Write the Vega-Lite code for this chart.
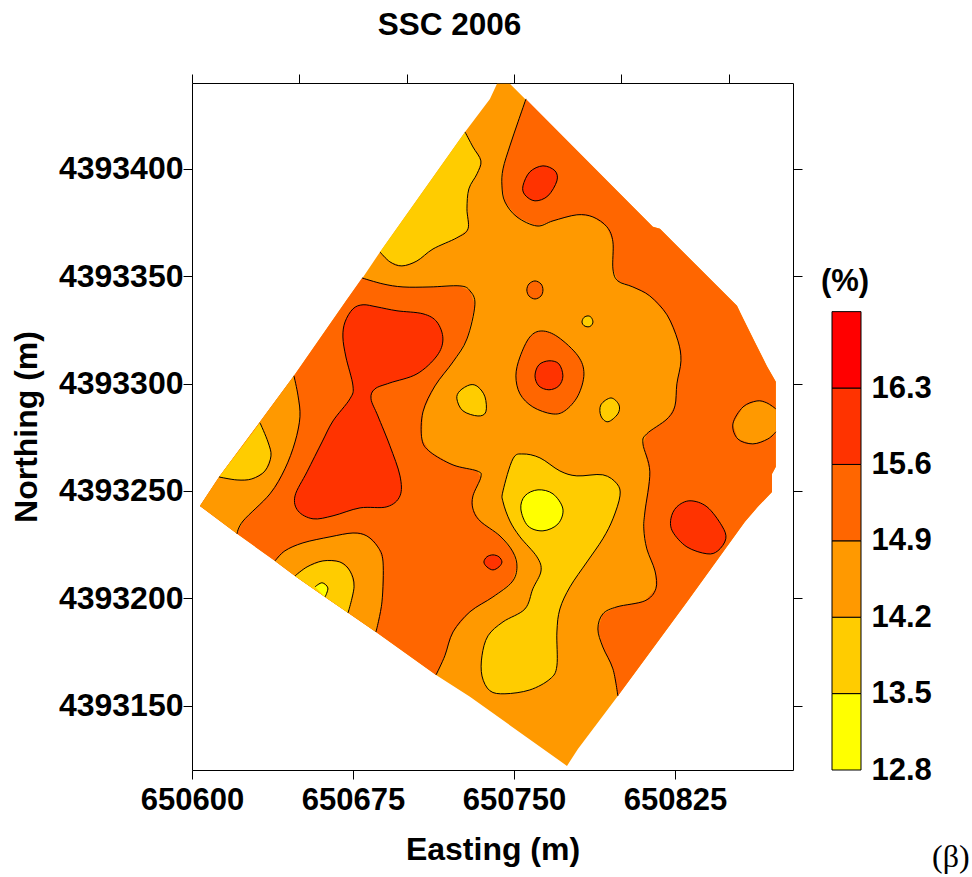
{"$schema":"https://vega.github.io/schema/vega-lite/v6.json","background":"white","padding":{"left":10,"top":10,"right":0,"bottom":0},"bounds":"flush","spacing":39,"config":{"view":{"stroke":null},"font":"Liberation Sans","axis":{"grid":false,"domainColor":"#000","tickColor":"#000","labelColor":"#000","titleColor":"#000","labelFont":"Liberation Sans","titleFont":"Liberation Sans","labelFontWeight":"bold","titleFontWeight":"bold","labelFontSize":31,"titleFontSize":32,"tickSize":9,"labelFlush":false}},"datasets":{"regions":[
{"p":"base","v":14.2,"x":650742.1,"y":4393439.6,"edge":true},{"p":"base","v":14.2,"x":650748.1,"y":4393439.6,"edge":true},{"p":"base","v":14.2,"x":650814.7,"y":4393373.0,"edge":true},{"p":"base","v":14.2,"x":650818.0,"y":4393372.1,"edge":true},{"p":"base","v":14.2,"x":650853.9,"y":4393336.2,"edge":true},{"p":"base","v":14.2,"x":650856.2,"y":4393331.5,"edge":true},{"p":"base","v":14.2,"x":650862.2,"y":4393319.4,"edge":true},{"p":"base","v":14.2,"x":650867.8,"y":4393308.2,"edge":true},{"p":"base","v":14.2,"x":650872.0,"y":4393300.8,"edge":true},{"p":"base","v":14.2,"x":650872.0,"y":4393261.2,"edge":true},{"p":"base","v":14.2,"x":650870.2,"y":4393257.9,"edge":true},{"p":"base","v":14.2,"x":650870.2,"y":4393249.5,"edge":true},{"p":"base","v":14.2,"x":650863.6,"y":4393242.6,"edge":true},{"p":"base","v":14.2,"x":650857.6,"y":4393235.6,"edge":true},{"p":"base","v":14.2,"x":650830.6,"y":4393198.3,"edge":true},{"p":"base","v":14.2,"x":650798.4,"y":4393154.5,"edge":true},{"p":"base","v":14.2,"x":650779.8,"y":4393129.8,"edge":true},{"p":"base","v":14.2,"x":650774.7,"y":4393121.9,"edge":true},{"p":"base","v":14.2,"x":650729.5,"y":4393154.1,"edge":true},{"p":"base","v":14.2,"x":650713.7,"y":4393164.3,"edge":true},{"p":"base","v":14.2,"x":650685.7,"y":4393184.3,"edge":true},{"p":"base","v":14.2,"x":650672.7,"y":4393193.2,"edge":true},{"p":"base","v":14.2,"x":650662.0,"y":4393200.6,"edge":true},{"p":"base","v":14.2,"x":650648.0,"y":4393210.4,"edge":true},{"p":"base","v":14.2,"x":650638.7,"y":4393217.4,"edge":true},{"p":"base","v":14.2,"x":650621.0,"y":4393230.0,"edge":true},{"p":"base","v":14.2,"x":650603.7,"y":4393243.0,"edge":true},{"p":"base","v":14.2,"x":650612.6,"y":4393256.5,"edge":true},{"p":"base","v":14.2,"x":650631.7,"y":4393282.2,"edge":true},{"p":"base","v":14.2,"x":650647.5,"y":4393303.6,"edge":true},{"p":"base","v":14.2,"x":650671.7,"y":4393338.5,"edge":true},{"p":"base","v":14.2,"x":650679.2,"y":4393348.8,"edge":true},{"p":"base","v":14.2,"x":650687.6,"y":4393361.3,"edge":true},{"p":"base","v":14.2,"x":650727.2,"y":4393417.2,"edge":true},{"p":"base","v":14.2,"x":650738.8,"y":4393432.6,"edge":true},
{"p":"r1","v":14.9,"x":650755.6,"y":4393432.6},{"p":"r1","v":14.9,"x":650751.9,"y":4393421.9},{"p":"r1","v":14.9,"x":650748.1,"y":4393410.7},{"p":"r1","v":14.9,"x":650744.9,"y":4393400.0},{"p":"r1","v":14.9,"x":650744.4,"y":4393392.1},{"p":"r1","v":14.9,"x":650745.8,"y":4393384.6},{"p":"r1","v":14.9,"x":650751.4,"y":4393377.6},{"p":"r1","v":14.9,"x":650760.7,"y":4393373.4},{"p":"r1","v":14.9,"x":650768.2,"y":4393375.8},{"p":"r1","v":14.9,"x":650779.3,"y":4393378.6},{"p":"r1","v":14.9,"x":650786.8,"y":4393377.6},{"p":"r1","v":14.9,"x":650793.3,"y":4393373.0},{"p":"r1","v":14.9,"x":650796.1,"y":4393366.0},{"p":"r1","v":14.9,"x":650796.1,"y":4393353.4},{"p":"r1","v":14.9,"x":650798.4,"y":4393347.8},{"p":"r1","v":14.9,"x":650805.4,"y":4393345.0},{"p":"r1","v":14.9,"x":650813.3,"y":4393340.8},{"p":"r1","v":14.9,"x":650821.3,"y":4393332.0},{"p":"r1","v":14.9,"x":650826.4,"y":4393319.9},{"p":"r1","v":14.9,"x":650827.8,"y":4393310.6},{"p":"r1","v":14.9,"x":650825.9,"y":4393299.9},{"p":"r1","v":14.9,"x":650825.0,"y":4393289.6},{"p":"r1","v":14.9,"x":650821.3,"y":4393283.5},{"p":"r1","v":14.9,"x":650811.9,"y":4393276.6},{"p":"r1","v":14.9,"x":650810.1,"y":4393271.9},{"p":"r1","v":14.9,"x":650813.3,"y":4393258.9},{"p":"r1","v":14.9,"x":650811.0,"y":4393240.2},{"p":"r1","v":14.9,"x":650810.5,"y":4393232.3},{"p":"r1","v":14.9,"x":650811.9,"y":4393223.0},{"p":"r1","v":14.9,"x":650815.7,"y":4393212.7},{"p":"r1","v":14.9,"x":650816.1,"y":4393204.4},{"p":"r1","v":14.9,"x":650811.0,"y":4393198.8},{"p":"r1","v":14.9,"x":650798.0,"y":4393196.0},{"p":"r1","v":14.9,"x":650791.4,"y":4393192.7},{"p":"r1","v":14.9,"x":650789.1,"y":4393185.7},{"p":"r1","v":14.9,"x":650791.4,"y":4393177.3},{"p":"r1","v":14.9,"x":650796.1,"y":4393167.1},{"p":"r1","v":14.9,"x":650798.4,"y":4393154.5},
{"p":"r1","v":14.9,"x":650830.6,"y":4393198.3,"edge":true},{"p":"r1","v":14.9,"x":650857.6,"y":4393235.6,"edge":true},{"p":"r1","v":14.9,"x":650863.6,"y":4393242.6,"edge":true},{"p":"r1","v":14.9,"x":650870.2,"y":4393249.5,"edge":true},{"p":"r1","v":14.9,"x":650870.2,"y":4393257.9,"edge":true},{"p":"r1","v":14.9,"x":650872.0,"y":4393261.2,"edge":true},{"p":"r1","v":14.9,"x":650872.0,"y":4393300.8,"edge":true},{"p":"r1","v":14.9,"x":650867.8,"y":4393308.2,"edge":true},{"p":"r1","v":14.9,"x":650862.2,"y":4393319.4,"edge":true},{"p":"r1","v":14.9,"x":650856.2,"y":4393331.5,"edge":true},{"p":"r1","v":14.9,"x":650853.9,"y":4393336.2,"edge":true},{"p":"r1","v":14.9,"x":650818.0,"y":4393372.1,"edge":true},{"p":"r1","v":14.9,"x":650814.7,"y":4393373.0,"edge":true},
{"p":"r2","v":14.9,"x":650679.2,"y":4393349.2},{"p":"r2","v":14.9,"x":650689.0,"y":4393346.4},{"p":"r2","v":14.9,"x":650698.3,"y":4393345.0},{"p":"r2","v":14.9,"x":650710.9,"y":4393345.0},{"p":"r2","v":14.9,"x":650724.8,"y":4393345.5},{"p":"r2","v":14.9,"x":650729.5,"y":4393343.2},{"p":"r2","v":14.9,"x":650731.8,"y":4393336.7},{"p":"r2","v":14.9,"x":650728.1,"y":4393320.8},{"p":"r2","v":14.9,"x":650721.6,"y":4393310.1},{"p":"r2","v":14.9,"x":650713.2,"y":4393298.9},{"p":"r2","v":14.9,"x":650707.6,"y":4393286.8},{"p":"r2","v":14.9,"x":650707.1,"y":4393274.2},{"p":"r2","v":14.9,"x":650710.9,"y":4393268.2},{"p":"r2","v":14.9,"x":650721.6,"y":4393262.1},{"p":"r2","v":14.9,"x":650732.8,"y":4393259.3},{"p":"r2","v":14.9,"x":650734.6,"y":4393256.5},{"p":"r2","v":14.9,"x":650730.9,"y":4393247.7},{"p":"r2","v":14.9,"x":650730.9,"y":4393241.6},{"p":"r2","v":14.9,"x":650734.2,"y":4393236.0},{"p":"r2","v":14.9,"x":650743.5,"y":4393229.0},{"p":"r2","v":14.9,"x":650749.5,"y":4393221.6},{"p":"r2","v":14.9,"x":650751.4,"y":4393214.6},{"p":"r2","v":14.9,"x":650749.1,"y":4393207.6},{"p":"r2","v":14.9,"x":650740.2,"y":4393200.6},{"p":"r2","v":14.9,"x":650729.5,"y":4393193.7},{"p":"r2","v":14.9,"x":650721.6,"y":4393184.3},{"p":"r2","v":14.9,"x":650717.8,"y":4393173.2},{"p":"r2","v":14.9,"x":650713.7,"y":4393164.3},
{"p":"r2","v":14.9,"x":650685.7,"y":4393184.3,"edge":true},{"p":"r2","v":14.9,"x":650672.7,"y":4393193.2,"edge":true},{"p":"r2","v":14.9,"x":650662.0,"y":4393200.6,"edge":true},{"p":"r2","v":14.9,"x":650648.0,"y":4393210.4,"edge":true},{"p":"r2","v":14.9,"x":650638.7,"y":4393217.4,"edge":true},{"p":"r2","v":14.9,"x":650621.0,"y":4393230.0,"edge":true},{"p":"r2","v":14.9,"x":650603.7,"y":4393243.0,"edge":true},{"p":"r2","v":14.9,"x":650612.6,"y":4393256.5,"edge":true},{"p":"r2","v":14.9,"x":650631.7,"y":4393282.2,"edge":true},{"p":"r2","v":14.9,"x":650647.5,"y":4393303.6,"edge":true},{"p":"r2","v":14.9,"x":650671.7,"y":4393338.5,"edge":true},
{"p":"w","v":14.2,"x":650647.5,"y":4393303.6},{"p":"w","v":14.2,"x":650649.4,"y":4393294.3},{"p":"w","v":14.2,"x":650650.3,"y":4393284.5},{"p":"w","v":14.2,"x":650648.0,"y":4393272.8},{"p":"w","v":14.2,"x":650643.3,"y":4393260.3},{"p":"w","v":14.2,"x":650636.3,"y":4393248.6},{"p":"w","v":14.2,"x":650623.8,"y":4393236.0},{"p":"w","v":14.2,"x":650621.0,"y":4393230.0},{"p":"w","v":14.2,"x":650603.7,"y":4393243.0,"edge":true},{"p":"w","v":14.2,"x":650612.6,"y":4393256.5,"edge":true},{"p":"w","v":14.2,"x":650631.7,"y":4393282.2,"edge":true},
{"p":"wy","v":13.5,"x":650631.7,"y":4393281.7},{"p":"wy","v":13.5,"x":650635.4,"y":4393272.8},{"p":"wy","v":13.5,"x":650636.8,"y":4393266.3},{"p":"wy","v":13.5,"x":650634.0,"y":4393259.3},{"p":"wy","v":13.5,"x":650627.9,"y":4393255.6},{"p":"wy","v":13.5,"x":650621.0,"y":4393255.1},{"p":"wy","v":13.5,"x":650612.6,"y":4393256.5},
{"p":"so","v":14.2,"x":650638.7,"y":4393217.4},{"p":"so","v":14.2,"x":650643.3,"y":4393222.1},{"p":"so","v":14.2,"x":650651.7,"y":4393225.8},{"p":"so","v":14.2,"x":650664.3,"y":4393228.6},{"p":"so","v":14.2,"x":650675.0,"y":4393230.4},{"p":"so","v":14.2,"x":650681.5,"y":4393229.0},{"p":"so","v":14.2,"x":650686.6,"y":4393223.9},{"p":"so","v":14.2,"x":650689.0,"y":4393216.9},{"p":"so","v":14.2,"x":650688.5,"y":4393198.3},{"p":"so","v":14.2,"x":650685.7,"y":4393184.3},{"p":"so","v":14.2,"x":650672.7,"y":4393193.2,"edge":true},{"p":"so","v":14.2,"x":650662.0,"y":4393200.6,"edge":true},{"p":"so","v":14.2,"x":650648.0,"y":4393210.4,"edge":true},
{"p":"sy","v":13.5,"x":650648.0,"y":4393210.4},{"p":"sy","v":13.5,"x":650653.6,"y":4393214.6},{"p":"sy","v":13.5,"x":650661.0,"y":4393217.4},{"p":"sy","v":13.5,"x":650668.9,"y":4393216.9},{"p":"sy","v":13.5,"x":650673.6,"y":4393212.7},{"p":"sy","v":13.5,"x":650675.5,"y":4393205.3},{"p":"sy","v":13.5,"x":650672.7,"y":4393193.2},{"p":"sy","v":13.5,"x":650662.0,"y":4393200.6,"edge":true},
{"p":"sb","v":12.8,"x":650657.3,"y":4393205.3},{"p":"sb","v":12.8,"x":650660.6,"y":4393207.2},{"p":"sb","v":12.8,"x":650663.3,"y":4393204.8},{"p":"sb","v":12.8,"x":650662.0,"y":4393200.6},
{"p":"ny","v":13.5,"x":650727.2,"y":4393417.2},{"p":"ny","v":13.5,"x":650730.9,"y":4393410.2},{"p":"ny","v":13.5,"x":650734.6,"y":4393403.7},{"p":"ny","v":13.5,"x":650732.8,"y":4393397.7},{"p":"ny","v":13.5,"x":650729.0,"y":4393390.7},{"p":"ny","v":13.5,"x":650728.1,"y":4393381.4},{"p":"ny","v":13.5,"x":650728.6,"y":4393372.1},{"p":"ny","v":13.5,"x":650723.4,"y":4393367.9},{"p":"ny","v":13.5,"x":650712.3,"y":4393362.7},{"p":"ny","v":13.5,"x":650704.8,"y":4393357.1},{"p":"ny","v":13.5,"x":650697.8,"y":4393354.8},{"p":"ny","v":13.5,"x":650692.2,"y":4393356.7},{"p":"ny","v":13.5,"x":650687.6,"y":4393361.3},
{"p":"eo","v":14.2,"x":650872.0,"y":4393288.2},{"p":"eo","v":14.2,"x":650867.8,"y":4393291.0},{"p":"eo","v":14.2,"x":650863.2,"y":4393291.9},{"p":"eo","v":14.2,"x":650856.7,"y":4393289.1},{"p":"eo","v":14.2,"x":650852.0,"y":4393281.2},{"p":"eo","v":14.2,"x":650854.3,"y":4393274.2},{"p":"eo","v":14.2,"x":650861.3,"y":4393271.9},{"p":"eo","v":14.2,"x":650868.3,"y":4393274.2},{"p":"eo","v":14.2,"x":650872.0,"y":4393277.5}
],"blobs":[
{"p":"hg","v":15.6,"x":650679.7,"y":4393336.7},{"p":"hg","v":15.6,"x":650675.0,"y":4393334.8},{"p":"hg","v":15.6,"x":650671.3,"y":4393328.7},{"p":"hg","v":15.6,"x":650670.3,"y":4393321.7},{"p":"hg","v":15.6,"x":650671.7,"y":4393312.4},{"p":"hg","v":15.6,"x":650675.0,"y":4393298.9},{"p":"hg","v":15.6,"x":650673.6,"y":4393292.9},{"p":"hg","v":15.6,"x":650665.7,"y":4393282.6},{"p":"hg","v":15.6,"x":650660.6,"y":4393272.8},{"p":"hg","v":15.6,"x":650653.6,"y":4393258.9},{"p":"hg","v":15.6,"x":650648.0,"y":4393247.7},{"p":"hg","v":15.6,"x":650649.4,"y":4393240.7},{"p":"hg","v":15.6,"x":650656.4,"y":4393237.0},{"p":"hg","v":15.6,"x":650665.7,"y":4393238.4},{"p":"hg","v":15.6,"x":650678.3,"y":4393242.1},{"p":"hg","v":15.6,"x":650690.8,"y":4393242.6},{"p":"hg","v":15.6,"x":650696.9,"y":4393247.7},{"p":"hg","v":15.6,"x":650696.9,"y":4393257.0},{"p":"hg","v":15.6,"x":650692.2,"y":4393271.0},{"p":"hg","v":15.6,"x":650686.6,"y":4393284.9},{"p":"hg","v":15.6,"x":650683.4,"y":4393292.9},{"p":"hg","v":15.6,"x":650685.2,"y":4393297.5},{"p":"hg","v":15.6,"x":650692.2,"y":4393300.3},{"p":"hg","v":15.6,"x":650704.8,"y":4393304.5},{"p":"hg","v":15.6,"x":650714.1,"y":4393312.9},{"p":"hg","v":15.6,"x":650716.9,"y":4393320.8},{"p":"hg","v":15.6,"x":650714.1,"y":4393328.7},{"p":"hg","v":15.6,"x":650707.6,"y":4393332.5},{"p":"hg","v":15.6,"x":650695.5,"y":4393333.9},{"p":"hg","v":15.6,"x":650686.2,"y":4393335.7},
{"p":"nd","v":15.6,"x":650763.5,"y":4393401.4},{"p":"nd","v":15.6,"x":650769.1,"y":4393399.1},{"p":"nd","v":15.6,"x":650770.0,"y":4393394.4},{"p":"nd","v":15.6,"x":650765.8,"y":4393387.4},{"p":"nd","v":15.6,"x":650759.8,"y":4393385.1},{"p":"nd","v":15.6,"x":650755.1,"y":4393387.9},{"p":"nd","v":15.6,"x":650754.2,"y":4393392.1},{"p":"nd","v":15.6,"x":650757.4,"y":4393398.6},
{"p":"cb","v":14.9,"x":650763.0,"y":4393324.5},{"p":"cb","v":14.9,"x":650770.5,"y":4393321.7},{"p":"cb","v":14.9,"x":650779.8,"y":4393312.9},{"p":"cb","v":14.9,"x":650782.6,"y":4393304.5},{"p":"cb","v":14.9,"x":650779.8,"y":4393294.3},{"p":"cb","v":14.9,"x":650773.7,"y":4393287.3},{"p":"cb","v":14.9,"x":650767.7,"y":4393285.9},{"p":"cb","v":14.9,"x":650758.8,"y":4393289.1},{"p":"cb","v":14.9,"x":650752.8,"y":4393295.2},{"p":"cb","v":14.9,"x":650750.9,"y":4393303.6},{"p":"cb","v":14.9,"x":650752.8,"y":4393312.4},{"p":"cb","v":14.9,"x":650757.4,"y":4393321.7},
{"p":"ci","v":15.6,"x":650766.3,"y":4393310.6},{"p":"ci","v":15.6,"x":650770.9,"y":4393309.2},{"p":"ci","v":15.6,"x":650772.8,"y":4393303.6},{"p":"ci","v":15.6,"x":650770.9,"y":4393298.9},{"p":"ci","v":15.6,"x":650766.3,"y":4393297.1},{"p":"ci","v":15.6,"x":650761.6,"y":4393298.9},{"p":"ci","v":15.6,"x":650759.8,"y":4393303.6},{"p":"ci","v":15.6,"x":650761.6,"y":4393308.7},
{"p":"sm","v":14.9,"x":650759.8,"y":4393347.8},{"p":"sm","v":14.9,"x":650762.6,"y":4393346.4},{"p":"sm","v":14.9,"x":650763.5,"y":4393343.6},{"p":"sm","v":14.9,"x":650762.6,"y":4393340.8},{"p":"sm","v":14.9,"x":650759.8,"y":4393339.4},{"p":"sm","v":14.9,"x":650757.0,"y":4393340.8},{"p":"sm","v":14.9,"x":650756.0,"y":4393343.6},{"p":"sm","v":14.9,"x":650757.0,"y":4393346.4},
{"p":"ty","v":13.5,"x":650784.5,"y":4393331.5},{"p":"ty","v":13.5,"x":650786.0,"y":4393330.8},{"p":"ty","v":13.5,"x":650786.8,"y":4393328.7},{"p":"ty","v":13.5,"x":650786.0,"y":4393327.0},{"p":"ty","v":13.5,"x":650784.5,"y":4393326.4},{"p":"ty","v":13.5,"x":650782.6,"y":4393327.0},{"p":"ty","v":13.5,"x":650781.7,"y":4393328.7},{"p":"ty","v":13.5,"x":650782.6,"y":4393330.8},
{"p":"ly","v":13.5,"x":650729.5,"y":4393299.4},{"p":"ly","v":13.5,"x":650724.8,"y":4393296.6},{"p":"ly","v":13.5,"x":650723.4,"y":4393292.9},{"p":"ly","v":13.5,"x":650726.2,"y":4393287.3},{"p":"ly","v":13.5,"x":650733.2,"y":4393284.9},{"p":"ly","v":13.5,"x":650736.9,"y":4393286.8},{"p":"ly","v":13.5,"x":650736.5,"y":4393293.8},{"p":"ly","v":13.5,"x":650733.2,"y":4393298.5},
{"p":"ry","v":13.5,"x":650795.2,"y":4393293.3},{"p":"ry","v":13.5,"x":650798.9,"y":4393290.1},{"p":"ry","v":13.5,"x":650798.4,"y":4393285.9},{"p":"ry","v":13.5,"x":650793.8,"y":4393282.2},{"p":"ry","v":13.5,"x":650790.5,"y":4393284.9},{"p":"ry","v":13.5,"x":650790.5,"y":4393290.1},
{"p":"cy","v":13.5,"x":650754.2,"y":4393267.2},{"p":"cy","v":13.5,"x":650749.5,"y":4393264.9},{"p":"cy","v":13.5,"x":650744.9,"y":4393250.0},{"p":"cy","v":13.5,"x":650744.9,"y":4393244.9},{"p":"cy","v":13.5,"x":650748.1,"y":4393236.0},{"p":"cy","v":13.5,"x":650752.8,"y":4393228.6},{"p":"cy","v":13.5,"x":650760.7,"y":4393219.3},{"p":"cy","v":13.5,"x":650762.6,"y":4393212.7},{"p":"cy","v":13.5,"x":650758.8,"y":4393204.4},{"p":"cy","v":13.5,"x":650755.1,"y":4393195.0},{"p":"cy","v":13.5,"x":650744.9,"y":4393189.0},{"p":"cy","v":13.5,"x":650737.9,"y":4393182.5},{"p":"cy","v":13.5,"x":650735.1,"y":4393173.2},{"p":"cy","v":13.5,"x":650735.1,"y":4393163.8},{"p":"cy","v":13.5,"x":650738.8,"y":4393156.9},{"p":"cy","v":13.5,"x":650745.8,"y":4393155.5},{"p":"cy","v":13.5,"x":650757.4,"y":4393157.3},{"p":"cy","v":13.5,"x":650766.8,"y":4393162.4},{"p":"cy","v":13.5,"x":650770.0,"y":4393168.5},{"p":"cy","v":13.5,"x":650770.0,"y":4393184.3},{"p":"cy","v":13.5,"x":650771.4,"y":4393195.0},{"p":"cy","v":13.5,"x":650776.1,"y":4393205.3},{"p":"cy","v":13.5,"x":650784.0,"y":4393216.9},{"p":"cy","v":13.5,"x":650791.4,"y":4393227.7},{"p":"cy","v":13.5,"x":650796.1,"y":4393237.0},{"p":"cy","v":13.5,"x":650799.4,"y":4393247.7},{"p":"cy","v":13.5,"x":650798.0,"y":4393253.3},{"p":"cy","v":13.5,"x":650791.4,"y":4393257.5},{"p":"cy","v":13.5,"x":650779.3,"y":4393257.0},{"p":"cy","v":13.5,"x":650771.4,"y":4393259.3},{"p":"cy","v":13.5,"x":650762.1,"y":4393265.4},
{"p":"by","v":12.8,"x":650761.2,"y":4393250.5},{"p":"by","v":12.8,"x":650768.2,"y":4393248.6},{"p":"by","v":12.8,"x":650772.8,"y":4393241.6},{"p":"by","v":12.8,"x":650770.5,"y":4393234.6},{"p":"by","v":12.8,"x":650763.5,"y":4393231.4},{"p":"by","v":12.8,"x":650756.5,"y":4393233.7},{"p":"by","v":12.8,"x":650753.2,"y":4393241.6},{"p":"by","v":12.8,"x":650755.1,"y":4393247.7},
{"p":"sd","v":15.6,"x":650832.0,"y":4393245.4},{"p":"sd","v":15.6,"x":650839.9,"y":4393242.6},{"p":"sd","v":15.6,"x":650846.9,"y":4393233.7},{"p":"sd","v":15.6,"x":650848.7,"y":4393227.7},{"p":"sd","v":15.6,"x":650845.0,"y":4393222.1},{"p":"sd","v":15.6,"x":650839.9,"y":4393220.7},{"p":"sd","v":15.6,"x":650830.6,"y":4393223.9},{"p":"sd","v":15.6,"x":650824.0,"y":4393230.9},{"p":"sd","v":15.6,"x":650823.1,"y":4393237.0},{"p":"sd","v":15.6,"x":650825.9,"y":4393242.6},
{"p":"sr","v":15.6,"x":650740.2,"y":4393220.2},{"p":"sr","v":15.6,"x":650743.0,"y":4393219.3},{"p":"sr","v":15.6,"x":650744.4,"y":4393216.9},{"p":"sr","v":15.6,"x":650743.0,"y":4393214.6},{"p":"sr","v":15.6,"x":650740.2,"y":4393213.2},{"p":"sr","v":15.6,"x":650737.4,"y":4393214.6},{"p":"sr","v":15.6,"x":650736.0,"y":4393216.9},{"p":"sr","v":15.6,"x":650737.4,"y":4393219.3}
]},"hconcat":[{"width":601,"height":687,"title":{"text":"SSC 2006","fontSize":31.5,"fontWeight":"bold","font":"Liberation Sans","color":"#000","offset":32,"dx":-43},"resolve":{"axis":{"x":"independent","y":"independent"}},"layer":[
{"data":{"name":"regions"},"mark":{"type":"line","interpolate":"linear","strokeOpacity":0},"encoding":{"x":{"field":"x","type":"quantitative","scale":{"domain":[650600,650880],"nice":false,"zero":false},"axis":{"orient":"bottom","values":[650600,650675,650750,650825],"format":"d","title":"Easting (m)","labelPadding":6,"titlePadding":19}},"y":{"field":"y","type":"quantitative","scale":{"domain":[4393120,4393440],"nice":false,"zero":false},"axis":{"orient":"left","values":[4393150,4393200,4393250,4393300,4393350,4393400],"format":"d","title":"Northing (m)","labelFontSize":32,"labelPadding":0,"titlePadding":15}},"detail":{"field":"p"},"order":{"value":null},"fill":{"field":"v","type":"ordinal","scale":{"domain":[12.8,13.5,14.2,14.9,15.6,16.3],"range":["#FFFF00","#FFCC00","#FF9900","#FF6600","#FF3300","#FF0000"]},"legend":null}}},
{"data":{"name":"regions"},"transform":[{"filter":"!datum.edge"}],"mark":{"type":"line","interpolate":"cardinal","stroke":"#000","strokeWidth":1},"encoding":{"x":{"field":"x","type":"quantitative","axis":{"orient":"top","values":[650600,650650,650700,650750,650800,650850],"labels":false,"title":null}},"y":{"field":"y","type":"quantitative","axis":{"orient":"right","values":[4393150,4393200,4393250,4393300,4393350,4393400],"labels":false,"title":null}},"detail":{"field":"p"},"order":{"value":null}}},
{"data":{"name":"blobs"},"mark":{"type":"line","interpolate":"cardinal-closed","stroke":"#000","strokeWidth":1},"encoding":{"x":{"field":"x","type":"quantitative","axis":null},"y":{"field":"y","type":"quantitative","axis":null},"detail":{"field":"p"},"order":{"value":null},"fill":{"field":"v","type":"ordinal","legend":null}}}
]},
{"width":29,"height":687,"layer":[
{"data":{"values":[{"lo":12.8,"hi":13.5},{"lo":13.5,"hi":14.2},{"lo":14.2,"hi":14.9},{"lo":14.9,"hi":15.6},{"lo":15.6,"hi":16.3},{"lo":16.3,"hi":17.0}]},"mark":{"type":"rect","stroke":"#000","strokeWidth":1},"encoding":{"x":{"datum":0,"type":"quantitative","scale":{"domain":[0,1],"nice":false,"zero":false},"axis":null},"x2":{"datum":1},"y":{"field":"lo","type":"quantitative","scale":{"domain":[12.8,19.095],"nice":false,"zero":false},"axis":{"orient":"right","values":[12.8,13.5,14.2,14.9,15.6,16.3],"format":".1f","title":null,"domain":false,"ticks":false,"labelPadding":10}},"y2":{"field":"hi"},"fill":{"field":"lo","type":"ordinal","scale":{"domain":[12.8,13.5,14.2,14.9,15.6,16.3],"range":["#FFFF00","#FFCC00","#FF9900","#FF6600","#FF3300","#FF0000"]},"legend":null}}},
{"data":{"values":[{"t":"(%)","xp":0.45,"yp":17.27}]},"mark":{"type":"text","font":"Liberation Sans","fontWeight":"bold","fontSize":31,"color":"#000","baseline":"middle"},"encoding":{"x":{"field":"xp","type":"quantitative"},"y":{"field":"yp","type":"quantitative"},"text":{"field":"t"}}},
{"data":{"values":[{"t":"(β)","xp":4.1,"yp":12.0}]},"mark":{"type":"text","font":"Liberation Serif","fontSize":32,"color":"#000","baseline":"middle"},"encoding":{"x":{"field":"xp","type":"quantitative"},"y":{"field":"yp","type":"quantitative"},"text":{"field":"t"}}}
]}]}
